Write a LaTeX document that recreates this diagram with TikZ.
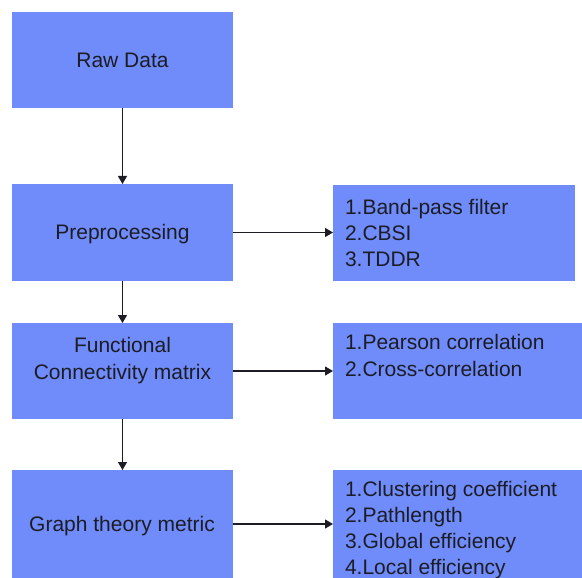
\documentclass[tikz,border=0pt]{standalone}
\usepackage{fontspec}
\setmainfont{Liberation Sans}
\usetikzlibrary{arrows.meta}
\definecolor{boxblue}{RGB}{112,140,250}
\definecolor{inkdark}{RGB}{28,28,36}
\begin{document}
\begin{tikzpicture}[x=1pt,y=-1pt,
  panel/.style 2 args={fill=boxblue, draw=none, inner sep=0pt, outer sep=0pt,
    minimum width=#1pt, minimum height=#2pt},
  txt/.style={inner sep=0pt, outer sep=0pt, text=inkdark,
    font=\fontsize{21}{25.8}\selectfont},
  flow/.style={draw=inkdark, line width=1.1pt,
    -{Triangle[length=8pt,width=9pt]}}]
\useasboundingbox (0,0) rectangle (582,578);

% left column: processing stages
\node[panel={221}{96}]  (raw)   at (122.5,60.5) {};
\node[panel={221}{97}]  (pre)   at (122.5,232.5) {};
\node[panel={221}{96}]  (fun)   at (122.5,371) {};
\node[panel={221}{108}] (graph) at (122.5,524) {};

\node[txt] (rawt)   at (122.5,60.7)  {Raw Data};
\node[txt] (pret)   at (122.5,233.9) {Preprocessing};
\node[txt, align=center, font=\fontsize{21}{27.3}\selectfont] (funt) at (122.5,360.9)
  {Functional\\Connectivity matrix};
\node[txt] (grapht) at (122,526.2)   {Graph theory metric};

% right column: method lists
\node[panel={242}{96}]  (r1) at (454,233) {};
\node[panel={249}{96}]  (r2) at (457.5,371) {};
\node[panel={249}{108}] (r3) at (457.5,524) {};

\node[txt, align=left, anchor=west] (r1t) at (345,233.2)
  {1.Band-pass filter\\2.CBSI\\3.TDDR};
\node[txt, align=left, anchor=west, font=\fontsize{21}{26.7}\selectfont] (r2t) at (345,355.7)
  {1.Pearson correlation\\2.Cross-correlation};
\node[txt, align=left, anchor=west] (r3t) at (345,530)
  {1.Clustering coefficient\\2.Pathlength\\3.Global efficiency\\4.Local efficiency};

% connectors
\draw[flow] (raw.south) -- (pre.north);
\draw[flow] (pre.south) -- (fun.north);
\draw[flow] (fun.south) -- (graph.north);
\draw[flow] (pre.east) -- (pre.east -| r1.west);
\draw[flow] (fun.east) -- (fun.east -| r2.west);
\draw[flow] (graph.east) -- (graph.east -| r3.west);
\end{tikzpicture}
\end{document}
